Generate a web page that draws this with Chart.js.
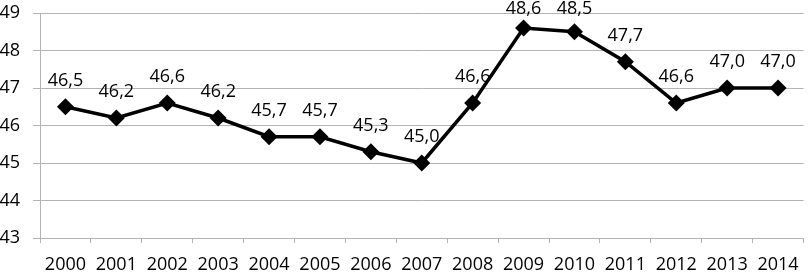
<!DOCTYPE html>
<html>
<head>
<meta charset="utf-8">
<script src="https://cdn.jsdelivr.net/npm/chart.js@4"></script>
<style>
html, body { margin: 0; padding: 0; background: #fff; }
#wrap { width: 812px; height: 272px; }
</style>
</head>
<body>
<div id="wrap"><canvas id="c"></canvas></div>
<script>
var years = ['2000','2001','2002','2003','2004','2005','2006','2007','2008','2009','2010','2011','2012','2013','2014'];
var values = [46.5,46.2,46.6,46.2,45.7,45.7,45.3,45.0,46.6,48.6,48.5,47.7,46.6,47.0,47.0];
var yMin = 43, yMax = 49, yStep = 1;

Chart.defaults.font.family = "'Open Sans', sans-serif";
Chart.defaults.font.size = 18;
Chart.defaults.color = '#000';

// point labels above each marker, comma decimal, kept inside the canvas
var pointLabels = {
  id: 'pointLabels',
  afterDatasetsDraw: function(chart) {
    var ctx = chart.ctx;
    var meta = chart.getDatasetMeta(0);
    ctx.save();
    ctx.font = "18px 'Open Sans', sans-serif";
    ctx.fillStyle = '#000';
    ctx.textAlign = 'center';
    ctx.textBaseline = 'alphabetic';
    meta.data.forEach(function(pt, i) {
      var txt = values[i].toFixed(1).replace('.', ',');
      ctx.fillText(txt, pt.x, Math.max(pt.y - 21, 14));
    });
    ctx.restore();
  }
};

new Chart(document.getElementById('c'), {
  type: 'line',
  data: {
    labels: years,
    datasets: [{
      data: values,
      borderColor: '#000',
      backgroundColor: '#000',
      borderWidth: 3.5,
      pointStyle: 'rectRot',
      pointRadius: 8.5,
      pointBorderWidth: 0,
      pointBackgroundColor: '#000',
      tension: 0,
      fill: false
    }]
  },
  plugins: [pointLabels],
  options: {
    responsive: true,
    maintainAspectRatio: false,
    animation: false,
    layout: { padding: { top: 13, right: 1, left: 0, bottom: 0 } },
    plugins: { legend: { display: false }, tooltip: { enabled: false } },
    scales: {
      x: {
        offset: true,
        grid: { offset: true, drawOnChartArea: false, tickLength: 5, color: '#b3b3b3' },
        border: { color: '#b3b3b3' },
        ticks: { padding: 11, maxRotation: 0, autoSkip: false },
        afterFit: function(s) { s.height = 34; s.paddingLeft = 0; s.paddingRight = 0; }
      },
      y: {
        min: yMin,
        max: yMax,
        ticks: { stepSize: yStep, padding: 13 },
        grid: { tickLength: 7, color: '#b3b3b3' },
        border: { color: '#b3b3b3' },
        afterFit: function(s) { s.width = 40; s.paddingTop = 0; s.paddingBottom = 0; }
      }
    }
  }
});
</script>
</body>
</html>
